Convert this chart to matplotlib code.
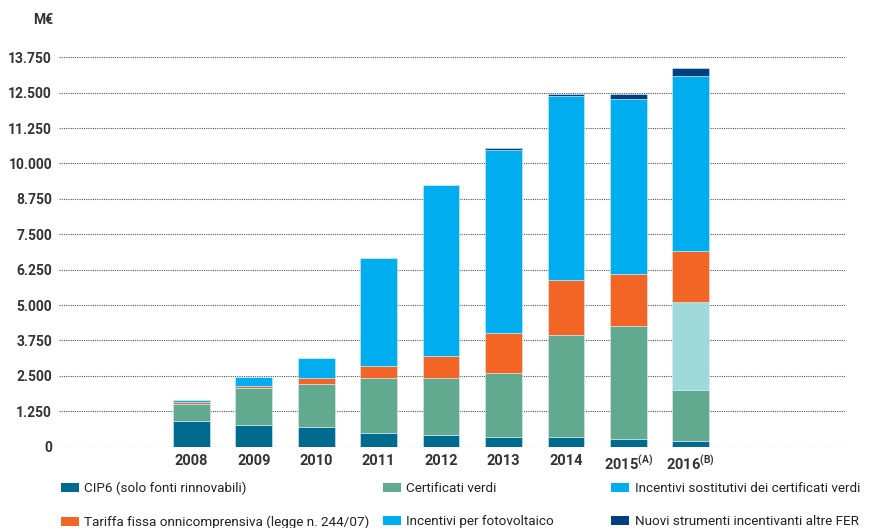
import numpy as np
import matplotlib.pyplot as plt
from matplotlib.patches import Patch

plt.rcParams['font.family'] = ['Roboto', 'DejaVu Sans']
plt.rcParams['font.stretch'] = 'condensed'
plt.rcParams['mathtext.default'] = 'regular'

# dati (milioni di euro)
anni = ['2008', '2009', '2010', '2011', '2012', '2013', '2014',
        '2015$^{(A)}$', '2016$^{(B)}$']
cip6 = [917, 776, 705, 470, 399, 353, 353, 282, 212]
cert_verdi = [588, 1294, 1506, 1952, 2023, 2235, 3596, 3974, 1787]
sostitutivi_cv = [0, 0, 0, 0, 0, 0, 0, 0, 3103]
tariffa_fissa = [82, 70, 211, 434, 787, 1432, 1954, 1858, 1798]
fotovoltaico = [59, 304, 716, 3808, 6029, 6466, 6463, 6171, 6182]
nuovi_fer = [0, 0, 0, 0, 0, 71, 81, 162, 296]
yticks = [0, 1250, 2500, 3750, 5000, 6250, 7500, 8750, 10000, 11250, 12500, 13750]

serie = [
    (cip6, '#006b8f'),
    (cert_verdi, '#61a98f'),
    (sostitutivi_cv, '#a0d9d9'),
    (tariffa_fissa, '#f26524'),
    (fotovoltaico, '#00adef'),
    (nuovi_fer, '#00407e'),
]

fig = plt.figure(figsize=(8.78, 5.28), dpi=100)
ax = fig.add_axes([0.0672, 0.154, 0.8952, 0.7375])

x = np.arange(len(anni))
base = np.zeros(len(anni))
for valori, colore in serie:
    ax.bar(x, valori, width=0.59, bottom=base, color=colore,
           edgecolor='#d8eef6', linewidth=0.4, zorder=3)
    base += np.array(valori)

ax.set_xlim(-2.12, 10.47)
ax.set_ylim(0, 13750)
ax.set_yticks(yticks)
ax.set_yticklabels([f'{v:,}'.replace(',', '.') for v in yticks],
                   fontsize=10, fontweight='bold', color='#333333')
ax.set_xticks(x)
ax.set_xticklabels(anni, fontsize=10.5, fontweight='bold', color='#333333')
ax.tick_params(length=0, pad=5)
ax.tick_params(axis='x', pad=5)
ax.grid(axis='y', color='#555555', linestyle=(0, (1, 1)), linewidth=0.8, zorder=0)
ax.set_axisbelow(True)
for s in ax.spines.values():
    s.set_visible(False)

fig.text(0.0603, 0.962, 'M€', fontsize=10, fontweight='bold', color='#333333',
         ha='right', va='center')

# legenda su tre colonne
colonne = [
    [('CIP6 (solo fonti rinnovabili)', '#006b8f'),
     ('Tariffa fissa onnicomprensiva (legge n. 244/07)', '#f26524')],
    [('Certificati verdi', '#61a98f'),
     ('Incentivi per fotovoltaico', '#00adef')],
    [('Incentivi sostitutivi dei certificati verdi', '#00adef'),
     ('Nuovi strumenti incentivanti altre FER', '#00407e')],
]
posizioni = [0.069, 0.436, 0.696]
for col, px in zip(colonne, posizioni):
    handles = [Patch(facecolor=c, edgecolor='none', label=l) for l, c in col]
    fig.legend(handles=handles, loc='upper left', bbox_to_anchor=(px, 0.087), frameon=False,
               fontsize=9.7, handlelength=1.35, handleheight=0.6, handletextpad=0.4,
               labelspacing=1.5, borderaxespad=0, borderpad=0, labelcolor='#222222')

fig.savefig('out.png', dpi=100)
